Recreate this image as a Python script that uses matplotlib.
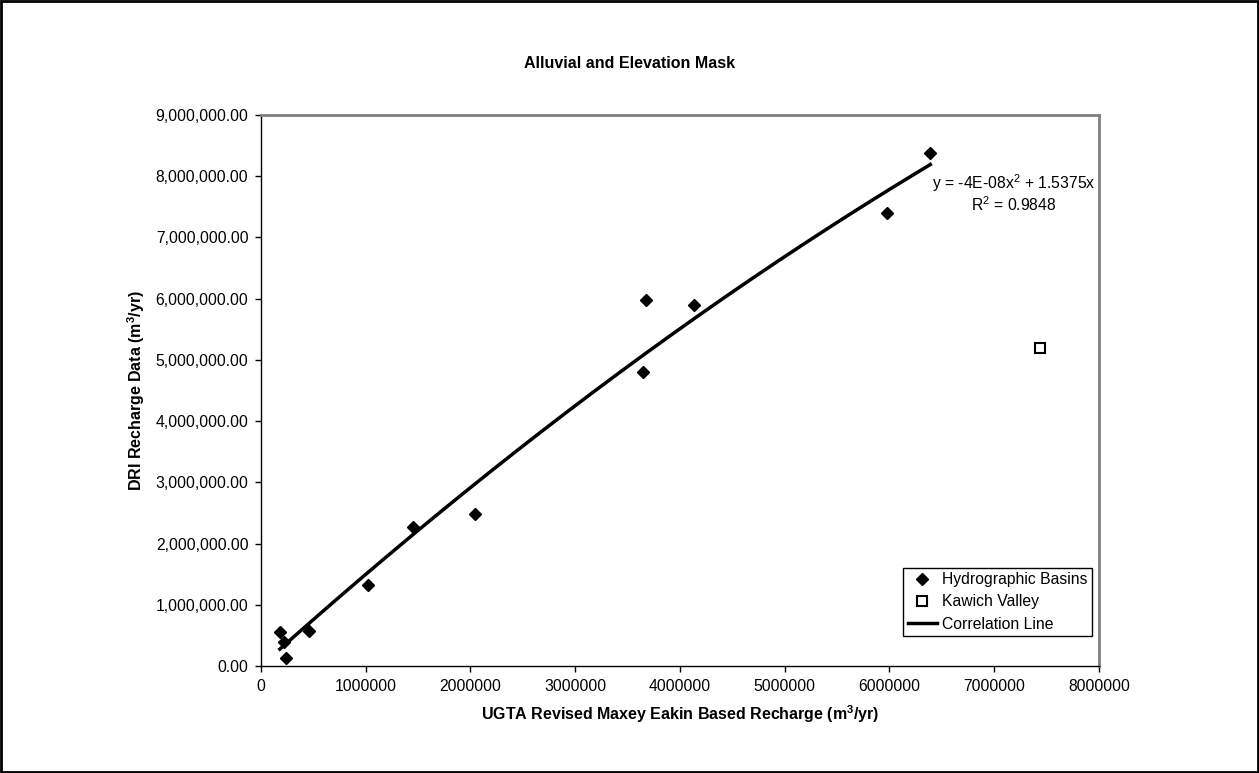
import numpy as np
import matplotlib
matplotlib.use('Agg')
import matplotlib.pyplot as plt
from matplotlib.ticker import FuncFormatter, MultipleLocator
from matplotlib.patches import Rectangle

plt.rcParams['font.family'] = ['Liberation Sans', 'DejaVu Sans']
plt.rcParams['mathtext.fontset'] = 'custom'
plt.rcParams['mathtext.rm'] = 'Liberation Sans'
plt.rcParams['mathtext.bf'] = 'Liberation Sans:bold'

# hydrographic basins (m3/yr)
basins_x = [180000, 220000, 240000, 460000, 1020000, 1455000, 2040000,
            3650000, 3675000, 4130000, 5980000, 6390000]
basins_y = [560000, 400000, 130000, 580000, 1330000, 2270000, 2480000,
            4800000, 5980000, 5890000, 7400000, 8380000]
# Kawich Valley
kawich_x = [7440000]
kawich_y = [5200000]
# trendline y = a x^2 + b x
coef_a = -4e-08
coef_b = 1.5375

fig = plt.figure(figsize=(12.59, 7.73), dpi=100)
ax = fig.add_axes([0.2073, 0.1384, 0.6656, 0.7128])

xs = np.linspace(min(basins_x), max(basins_x), 200)
ax.plot(basins_x, basins_y, 'D', color='black', markersize=6.5, label='Hydrographic Basins')
ax.plot(kawich_x, kawich_y, 's', mfc='white', mec='black', mew=1.5, markersize=7,
        label='Kawich Valley')
ax.plot(xs, coef_a * xs**2 + coef_b * xs, color='black', lw=2.5, label='Correlation Line')

ax.set_xlim(0, 8000000)
ax.set_ylim(0, 9000000)
ax.xaxis.set_major_locator(MultipleLocator(1000000))
ax.yaxis.set_major_locator(MultipleLocator(1000000))
ax.xaxis.set_major_formatter(FuncFormatter(lambda v, p: '%d' % v))
ax.yaxis.set_major_formatter(FuncFormatter(lambda v, p: '{:,.2f}'.format(v)))
ax.tick_params(direction='out', length=4, width=1, labelsize=11.3, pad=5)

for s in ['top', 'right']:
    ax.spines[s].set_color('#808080')
    ax.spines[s].set_linewidth(2)
for s in ['left', 'bottom']:
    ax.spines[s].set_color('black')
    ax.spines[s].set_linewidth(1)

ax.set_xlabel('UGTA Revised Maxey Eakin Based Recharge (m$^\\mathbf{3}$/yr)',
              fontsize=11.5, fontweight='bold', labelpad=7)
ax.set_ylabel('DRI Recharge Data (m$^\\mathbf{3}$/yr)', fontsize=11.5,
              fontweight='bold', labelpad=6)
fig.text(0.5, 1 - 63 / 773, 'Alluvial and Elevation Mask', fontsize=11.5,
         fontweight='bold', ha='center', va='center')

ax.text(0.898, 0.877, 'y = -4E-08x$^2$ + 1.5375x', transform=ax.transAxes,
        fontsize=11.3, ha='center', va='center')
ax.text(0.898, 0.838, 'R$^2$ = 0.9848', transform=ax.transAxes,
        fontsize=11.3, ha='center', va='center')

leg = ax.legend(loc='lower right', bbox_to_anchor=(0.992, 0.054), borderaxespad=0,
                fontsize=11.3, fancybox=False, framealpha=1, edgecolor='black',
                handlelength=1.9, handletextpad=0.3, borderpad=0.3, labelspacing=0.45)
leg.get_frame().set_linewidth(1)

fig.patches.append(Rectangle((0.001, 0.001), 0.998, 0.998, transform=fig.transFigure,
                             fill=False, edgecolor='black', lw=2))

fig.savefig('out.png', dpi=100)
